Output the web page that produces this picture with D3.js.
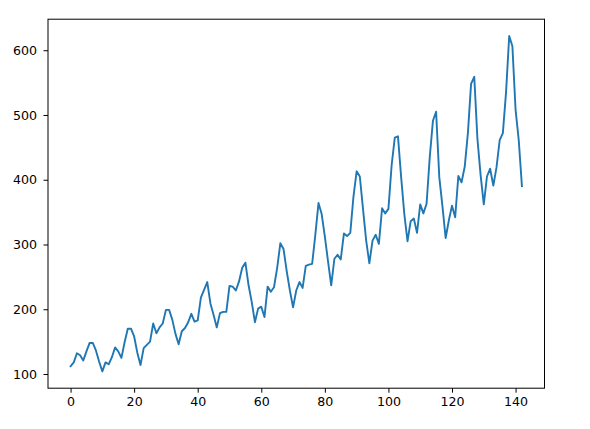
<!DOCTYPE html>
<html><head><meta charset="utf-8">
<script src="https://cdn.jsdelivr.net/npm/d3@7"></script>
<style>body{margin:0;background:#fff}svg{display:block}text{font-family:"DejaVu Sans";}</style>
</head><body>
<svg id="c" width="590" height="429"></svg>
<script>
const passengers = [112,118,132,129,121,135,148,148,136,119,104,118,
115,126,141,135,125,149,170,170,158,133,114,140,
145,150,178,163,172,178,199,199,184,162,146,166,
171,180,193,181,183,218,230,242,209,191,172,194,
196,196,236,235,229,243,264,272,237,211,180,201,
204,188,235,227,234,264,302,293,259,229,203,229,
242,233,267,269,270,315,364,347,312,274,237,278,
284,277,317,313,318,374,413,405,355,306,271,306,
315,301,356,348,355,422,465,467,404,347,305,336,
340,318,362,348,363,435,491,505,404,359,310,337,
360,342,406,396,420,472,548,559,463,407,362,405,
417,391,419,461,472,535,622,606,508,461,390];
const xTicks = [0,20,40,60,80,100,120,140];
const yTicks = [100,200,300,400,500,600];

const svg = d3.select("#c");
const L=48, R=544.5, T=19.2, B=388.2;
const n = passengers.length-1;
const xm = n*0.05;
const x = d3.scaleLinear().domain([-xm, n+xm]).range([L,R]);
const ymin = d3.min(passengers), ymax = d3.max(passengers), ym=(ymax-ymin)*0.05;
const y = d3.scaleLinear().domain([ymin-ym, ymax+ym]).range([B,T]);

const line = d3.line().x((d,i)=>x(i)).y(d=>y(d));
svg.append("path").datum(passengers).attr("d",line)
  .attr("fill","none").attr("stroke","#1f77b4").attr("stroke-width",1.9)
  .attr("stroke-linejoin","round").attr("stroke-linecap","square");

const fs = "12.6px";
const gx = svg.append("g").attr("transform",`translate(0,${B})`)
  .call(d3.axisBottom(x).tickValues(xTicks).tickSize(4.5).tickPadding(4.5).tickFormat(d3.format("d")));
const gy = svg.append("g").attr("transform",`translate(${L},0)`)
  .call(d3.axisLeft(y).tickValues(yTicks).tickSize(4.5).tickPadding(6.5).tickFormat(d3.format("d")));
[gx,gy].forEach(g=>{
  g.select(".domain").remove();
  g.selectAll("text").attr("font-family","DejaVu Sans").attr("font-size",fs).attr("fill","#000");
  g.selectAll("line").attr("stroke","#000").attr("stroke-width",1);
});
svg.append("rect").attr("x",L).attr("y",T).attr("width",R-L).attr("height",B-T)
  .attr("fill","none").attr("stroke","#000").attr("stroke-width",1);
</script>
</body></html>
